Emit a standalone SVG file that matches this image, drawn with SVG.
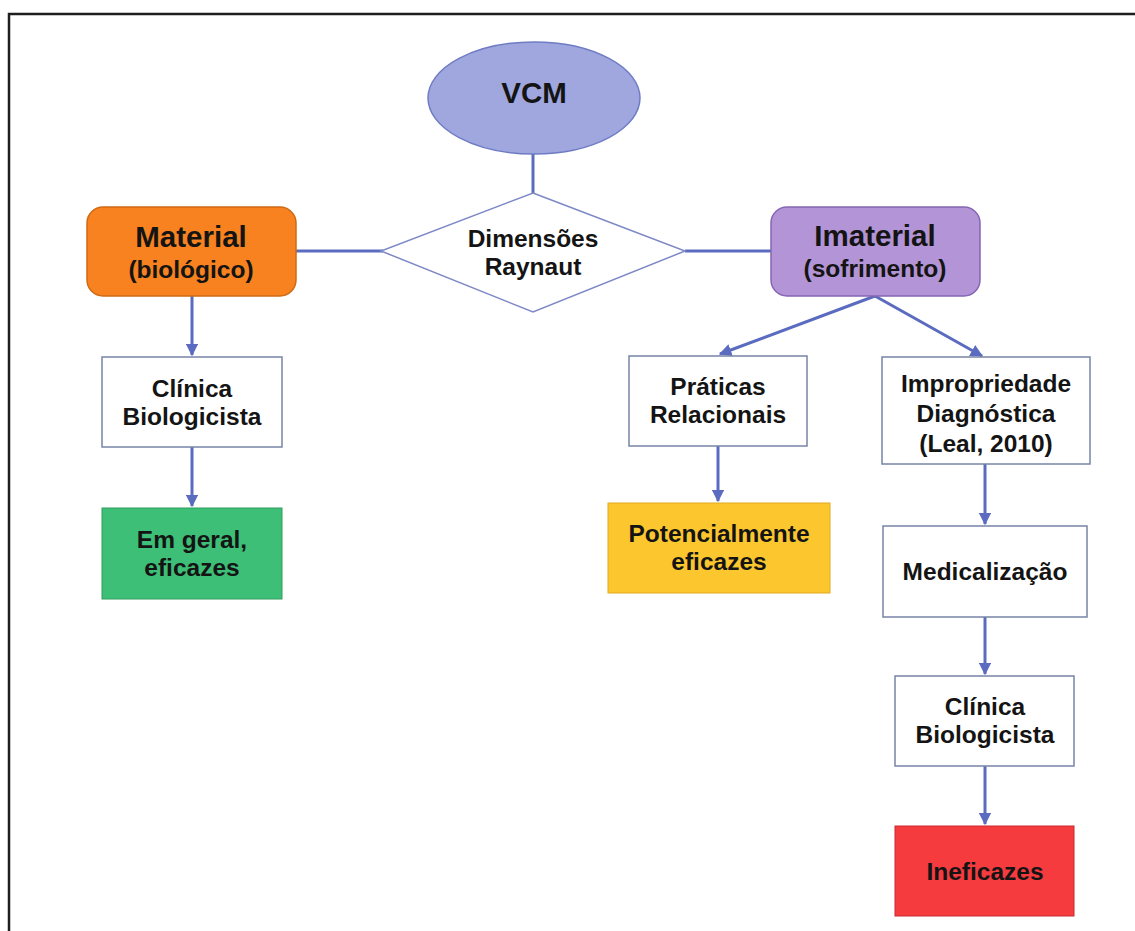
<svg xmlns="http://www.w3.org/2000/svg" width="1135" height="931" viewBox="0 0 1135 931">
  <defs>
    <marker id="arrow" viewBox="0 0 10 10" refX="9" refY="5" markerWidth="4.2" markerHeight="4.2" orient="auto" markerUnits="strokeWidth">
      <path d="M0,0 L10,5 L0,10 Z" fill="#5b6cc0"/>
    </marker>
    <style>
      text { font-family: "Liberation Sans", Arial, sans-serif; font-weight: bold; fill: #141414; text-anchor: middle; }
      .t { font-size: 24.5px; }
      .big { font-size: 29.5px; }
      .sub { font-size: 24.5px; }
      .box { fill: #ffffff; stroke: #7884a8; stroke-width: 1.5; }
      .link { stroke: #5b6cc0; stroke-width: 3; fill: none; }
      .arr { stroke: #5b6cc0; stroke-width: 3; fill: none; marker-end: url(#arrow); }
    </style>
  </defs>

  <rect width="1135" height="931" fill="#ffffff"/>
  <!-- frame (top and left edges) -->
  <path d="M9,931 L9,14 L1135,14" fill="none" stroke="#1e1e1e" stroke-width="2.5"/>

  <!-- connectors -->
  <g id="connectors">
    <line class="link" x1="533" y1="154" x2="533" y2="193"/>
    <line class="link" x1="296" y1="251" x2="383" y2="251"/>
    <line class="link" x1="685" y1="251" x2="771" y2="251"/>
    <line class="arr" x1="192" y1="296" x2="192" y2="355"/>
    <line class="arr" x1="192" y1="447" x2="192" y2="506"/>
    <line class="arr" x1="875" y1="296" x2="720" y2="354"/>
    <line class="arr" x1="875" y1="296" x2="982" y2="356"/>
    <line class="arr" x1="718" y1="446" x2="718" y2="501"/>
    <line class="arr" x1="985" y1="464" x2="985" y2="524"/>
    <line class="arr" x1="985" y1="617" x2="985" y2="674"/>
    <line class="arr" x1="985" y1="766" x2="985" y2="824"/>
  </g>

  <g id="vcm">
    <ellipse cx="534" cy="98" rx="106" ry="56" fill="#9fa7de" stroke="#6f7cc4" stroke-width="1.5"/>
    <text class="big" x="534" y="103">VCM</text>
  </g>

  <g id="dimensoes">
    <polygon points="533,193 685,251 533,312 381,251" fill="#ffffff" stroke="#7d88c6" stroke-width="1.5"/>
    <text class="t" x="533" y="247">Dimensões</text>
    <text class="t" x="533" y="275">Raynaut</text>
  </g>

  <g id="material">
    <rect x="87" y="207" width="209" height="89" rx="16" fill="#f7821f" stroke="#cf6a14" stroke-width="1.5"/>
    <text class="big" x="191" y="247">Material</text>
    <text class="sub" x="191" y="278">(biológico)</text>
  </g>

  <g id="imaterial">
    <rect x="771" y="207" width="209" height="89" rx="16" fill="#b394d6" stroke="#8466b3" stroke-width="1.5"/>
    <text class="big" x="875" y="246">Imaterial</text>
    <text class="sub" x="875" y="277">(sofrimento)</text>
  </g>

  <g id="clinica-material">
    <rect class="box" x="102" y="357" width="180" height="90"/>
    <text class="t" x="192" y="397">Clínica</text>
    <text class="t" x="192" y="425">Biologicista</text>
  </g>

  <g id="em-geral">
    <rect x="102" y="508" width="180" height="91" fill="#3dbf77" stroke="#2e9e5f" stroke-width="1"/>
    <text class="t" x="192" y="548">Em geral,</text>
    <text class="t" x="192" y="576">eficazes</text>
  </g>

  <g id="praticas">
    <rect class="box" x="629" y="356" width="178" height="90"/>
    <text class="t" x="718" y="395">Práticas</text>
    <text class="t" x="718" y="423">Relacionais</text>
  </g>

  <g id="potencialmente">
    <rect x="608" y="503" width="222" height="90" fill="#fcc62f" stroke="#e0aa20" stroke-width="1"/>
    <text class="t" x="719" y="542">Potencialmente</text>
    <text class="t" x="719" y="570">eficazes</text>
  </g>

  <g id="impropriedade">
    <rect class="box" x="882" y="357" width="208" height="107"/>
    <text class="t" x="986" y="392">Impropriedade</text>
    <text class="t" x="986" y="422">Diagnóstica</text>
    <text class="t" x="986" y="452">(Leal, 2010)</text>
  </g>

  <g id="medicalizacao">
    <rect class="box" x="883" y="526" width="204" height="91"/>
    <text class="t" x="985" y="580">Medicalização</text>
  </g>

  <g id="clinica-imaterial">
    <rect class="box" x="895" y="676" width="179" height="90"/>
    <text class="t" x="985" y="715">Clínica</text>
    <text class="t" x="985" y="743">Biologicista</text>
  </g>

  <g id="ineficazes">
    <rect x="895" y="826" width="179" height="90" fill="#f63b3f" stroke="#c82a2e" stroke-width="1"/>
    <text class="t" x="985" y="880">Ineficazes</text>
  </g>
</svg>
